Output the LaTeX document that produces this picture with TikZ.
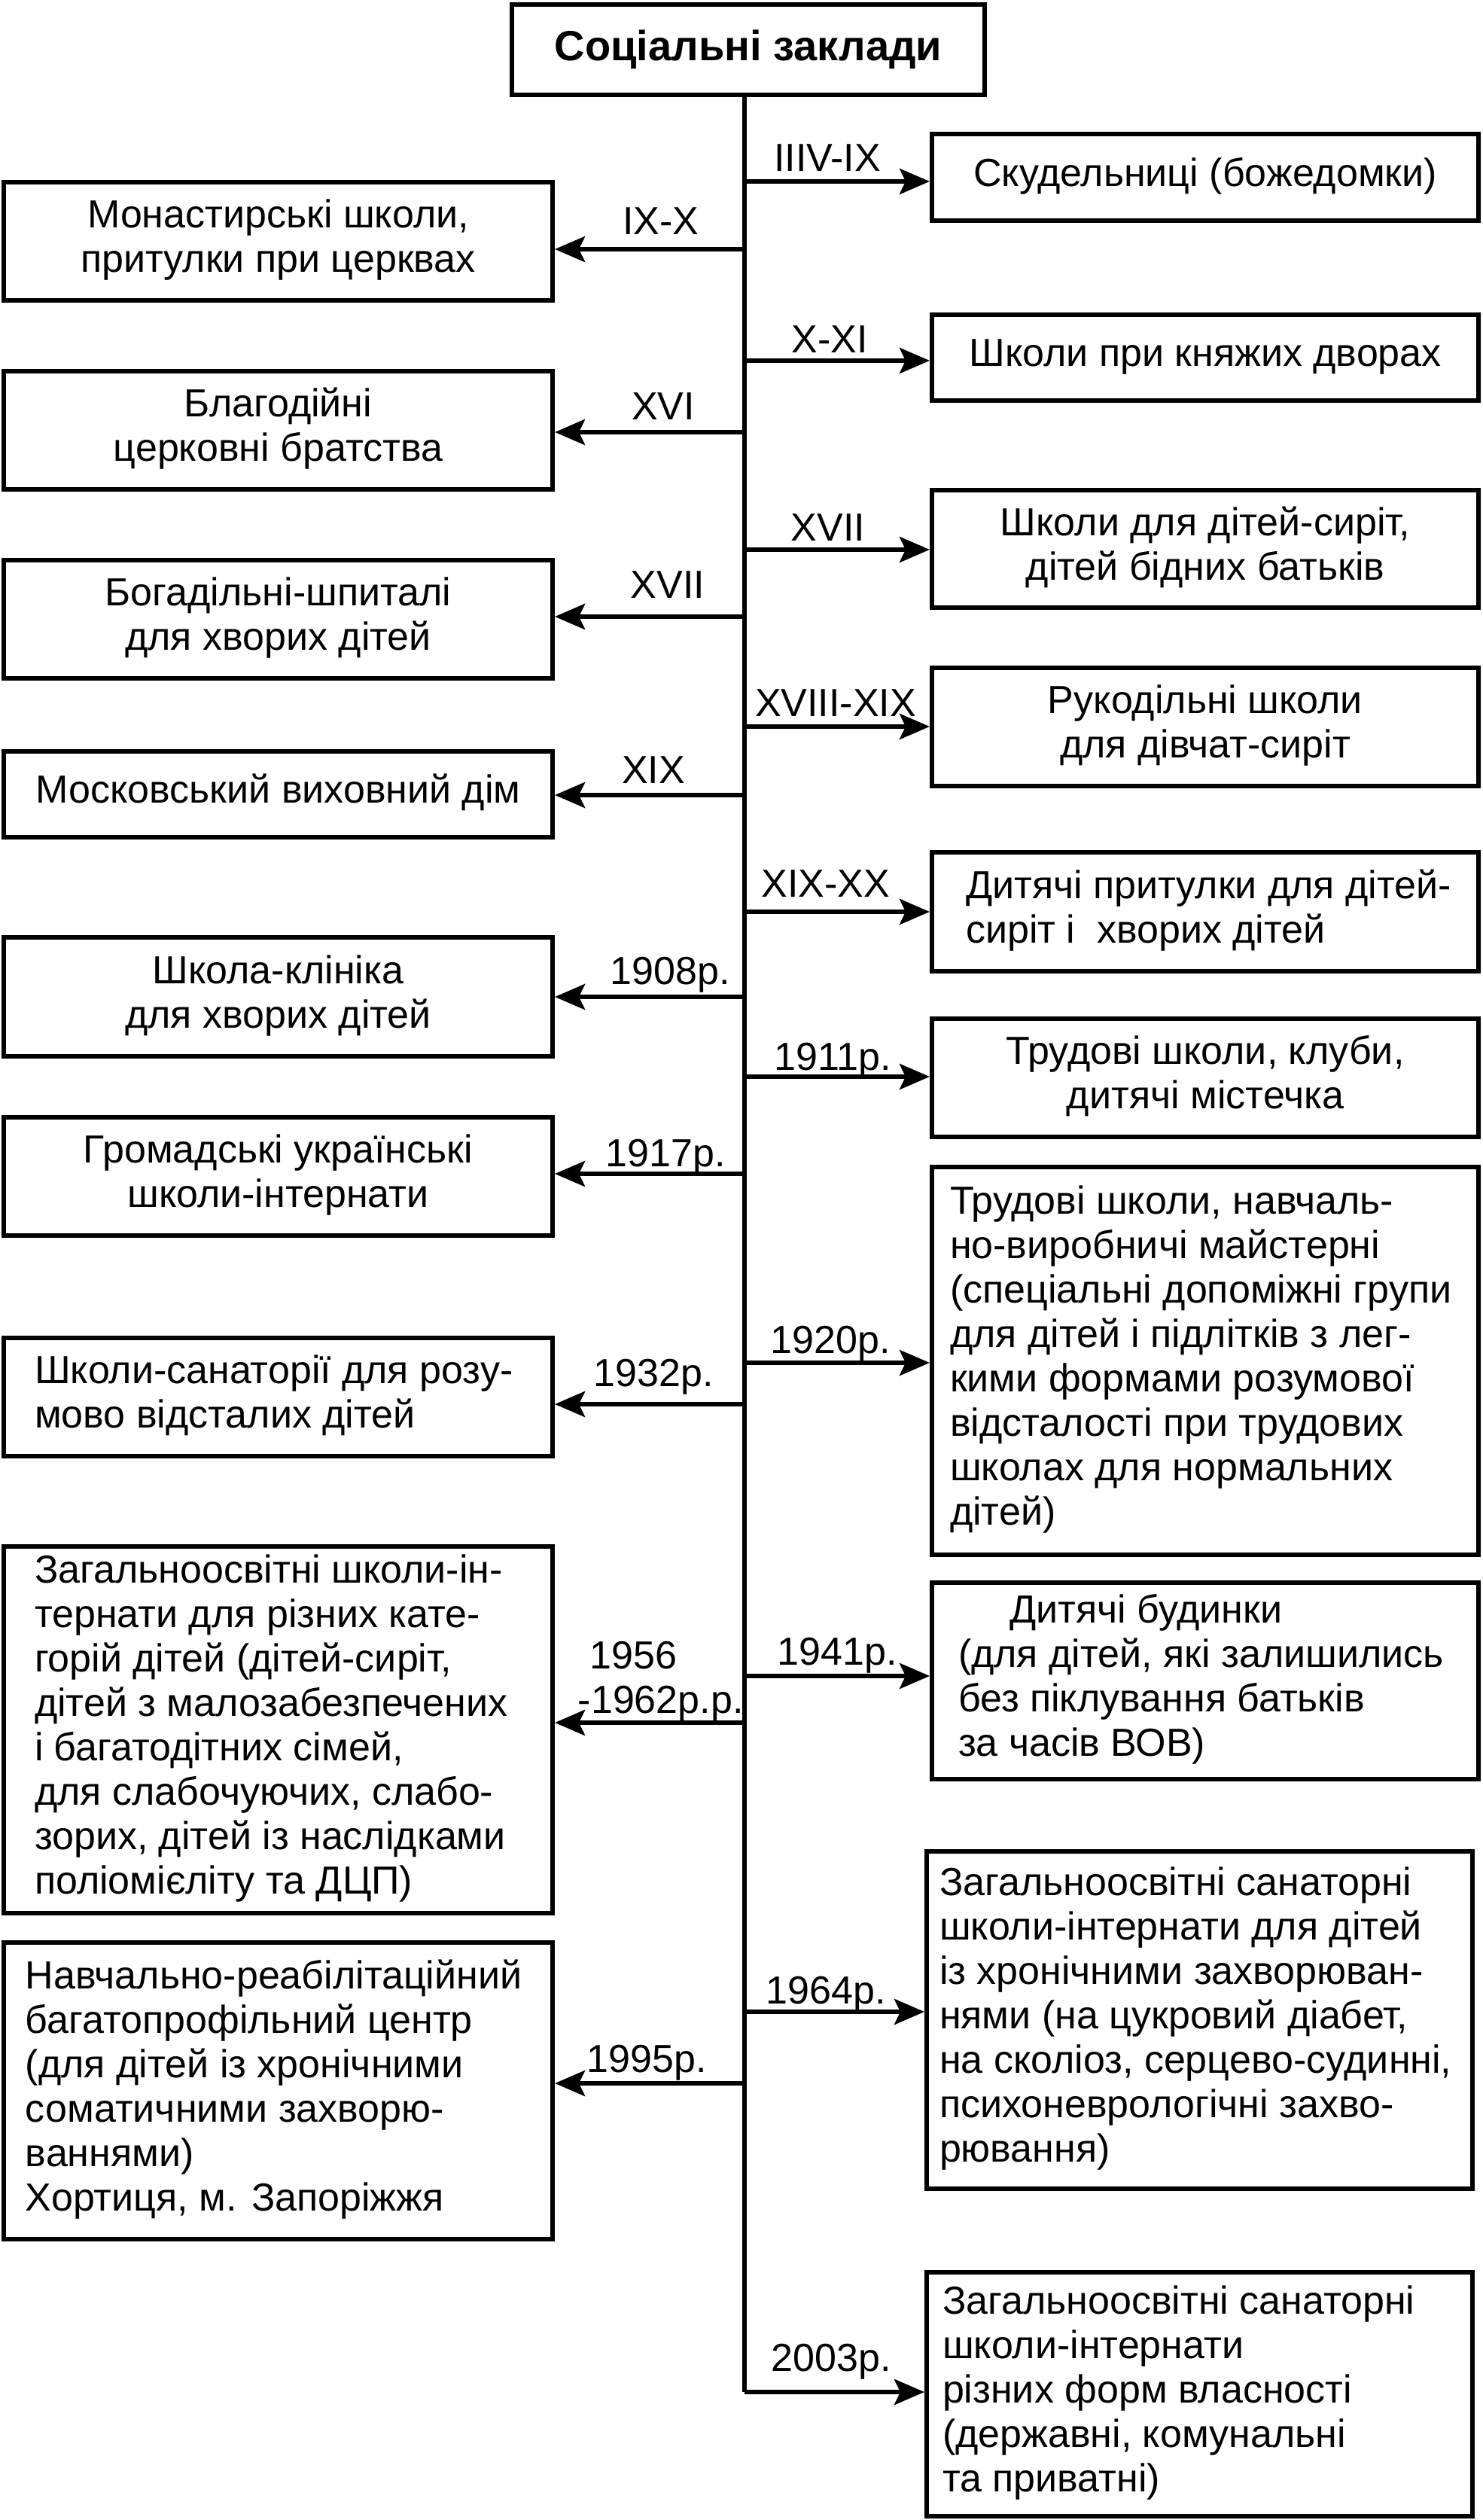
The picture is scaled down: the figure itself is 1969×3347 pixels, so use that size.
\documentclass[tikz,border=0pt]{standalone}
\usepackage{fontspec}
\setmainfont{Liberation Sans}
\usetikzlibrary{arrows.meta}
\newcommand{\tc}[1]{\begin{tabular}{@{}c@{}}#1\end{tabular}}
\newcommand{\lbx}[2]{\makebox[#1][l]{\begin{tabular}{@{}l@{}}#2\end{tabular}}}
\begin{document}
\begin{tikzpicture}[x=0.25pt,y=-0.25pt,
  every node/.style={font=\fontsize{13}{14.75}\selectfont},
  box/.style={draw, line width=1.5pt, rectangle, inner sep=0pt},
  lbox/.style={box, minimum width=182.25pt},
  rbox/.style={box, minimum width=181.5pt},
  rboxb/.style={box, minimum width=181.25pt},
  lab/.style={anchor=base, inner sep=0pt},
  link/.style={line width=1.5pt},
  arr/.style={line width=1.5pt, -{Stealth[length=10pt,width=8.5pt,inset=2pt]}}
]
\useasboundingbox (0,0) rectangle (1969,3347);

% title
\node[box, minimum width=157pt, minimum height=30pt, font=\fontsize{14}{16}\selectfont\bfseries] (title) at (994,66) {Соціальні заклади};

% left boxes
\node[lbox, minimum height=39.25pt] (L1) at (369.5,320.5) {\tc{Монастирські школи,\\притулки при церквах}};
\node[lbox, minimum height=39.25pt] (L2) at (369.5,571.5) {\tc{Благодійні\\церковні братства}};
\node[lbox, minimum height=39.25pt] (L3) at (369.5,822.5) {\tc{Богадільні-шпиталі\\для хворих дітей}};
\node[lbox, minimum height=28.5pt] (L4) at (369.5,1055) {\tc{Московський виховний дім}};
\node[lbox, minimum height=39.5pt] (L5) at (369.5,1324) {\tc{Школа-клініка\\для хворих дітей}};
\node[lbox, minimum height=39.25pt] (L6) at (369.5,1562.5) {\tc{Громадські українські\\школи-інтернати}};
\node[lbox, minimum height=39.25pt] (L7) at (369.5,1855.5) {\lbx{161.75pt}{Школи-санаторії для розу-\\мово відсталих дітей}};
\node[lbox, minimum height=121.75pt] (L8) at (369.5,2297.5) {\lbx{161.75pt}{Загальноосвітні школи-ін-\\тернати для різних кате-\\горій дітей (дітей-сиріт,\\дітей з малозабезпечених\\і багатодітних сімей,\\для слабочуючих, слабо-\\зорих, дітей із наслідками\\поліомієліту та ДЦП)}};
\node[lbox, minimum height=98.5pt] (L9) at (369.5,2777) {\lbx{167.75pt}{Навчально-реабілітаційний\\багатопрофільний центр\\(для дітей із хронічними\\соматичними захворю-\\ваннями)\\Хортиця, м. Запоріжжя}};

% right boxes
\node[rbox, minimum height=28.75pt] (R1) at (1601,235.5) {\tc{Скудельниці (божедомки)}};
\node[rbox, minimum height=28.5pt] (R2) at (1601,475) {\tc{Школи при княжих дворах}};
\node[rbox, minimum height=39pt] (R3) at (1601,729) {\tc{Школи для дітей-сиріт,\\дітей бідних батьків}};
\node[rbox, minimum height=39.25pt] (R4) at (1601,965.5) {\tc{Рукодільні школи\\для дівчат-сиріт}};
\node[rbox, minimum height=39.5pt] (R5) at (1601,1211) {\lbx{159pt}{Дитячі притулки для дітей-\\сиріт і \ хворих дітей}};
\node[rbox, minimum height=39.25pt] (R6) at (1601,1431.5) {\tc{Трудові школи, клуби,\\дитячі містечка}};
\node[rbox, minimum height=128.75pt] (R7) at (1601,1807.5) {\lbx{169.5pt}{Трудові школи, навчаль-\\но-виробничі майстерні\\(спеціальні допоміжні групи\\для дітей і підлітків з лег-\\кими формами розумової\\відсталості при трудових\\школах для нормальних\\дітей)}};
\node[rbox, minimum height=65.25pt] (R8) at (1601,2232.5) {\lbx{164pt}{\hspace*{17pt}Дитячі будинки\\(для дітей, які залишились\\без піклування батьків\\за часів ВОВ)}};
\node[rboxb, minimum height=112pt] (R9) at (1593.5,2683) {\lbx{172.75pt}{Загальноосвітні санаторні\\школи-інтернати для дітей\\із хронічними захворюван-\\нями (на цукровий діабет,\\на сколіоз, серцево-судинні,\\психоневрологічні захво-\\рювання)}};
\node[rboxb, minimum height=81pt] (R10) at (1593.5,3180) {\lbx{170.75pt}{Загальноосвітні санаторні\\школи-інтернати\\різних форм власності\\(державні, комунальні\\та приватні)}};

% trunk
\coordinate (tb) at (989,3177);
\draw[link] (title.south -| tb) -- (tb);

% branch points
\coordinate (l1) at (989,331);
\coordinate (l2) at (989,574);
\coordinate (l3) at (989,819);
\coordinate (l4) at (989,1056);
\coordinate (l5) at (989,1324);
\coordinate (l6) at (989,1559);
\coordinate (l7) at (989,1865);
\coordinate (l8) at (989,2288);
\coordinate (l9) at (989,2767);
\coordinate (r1) at (989,241);
\coordinate (r2) at (989,479);
\coordinate (r3) at (989,730);
\coordinate (r4) at (989,965);
\coordinate (r5) at (989,1211);
\coordinate (r6) at (989,1430);
\coordinate (r7) at (989,1810);
\coordinate (r8) at (989,2226);
\coordinate (r9) at (989,2672);

\foreach \i in {1,...,9} {\draw[arr] (l\i) -- (l\i -| L\i.east);}
\foreach \i in {1,...,9} {\draw[arr] (r\i) -- (r\i -| R\i.west);}
\draw[arr] (tb) -- (tb -| R10.west);

% labels left
\node[lab] (tl1) at (878,312) {IX-X};
\node[lab] (tl2) at (881,558) {XVI};
\node[lab] (tl3) at (887,795) {XVII};
\node[lab] (tl4) at (868,1040) {XIX};
\node[lab] (tl5) at (890,1307) {1908р.};
\node[lab] (tl6) at (884,1549) {1917р.};
\node[lab] (tl7) at (868,1841) {1932р.};
\node[inner sep=0pt, anchor=base west] (tl8) at (767,2216) {\begin{tabular}[t]{@{}l@{}}\hspace*{4pt}1956\\-1962р.р.\end{tabular}};
\node[lab] (tl9) at (859,2752) {1995р.};

% labels right
\node[lab] (tr1) at (1099,228) {IIIV-IX};
\node[lab] (tr2) at (1102,469) {X-XI};
\node[lab] (tr3) at (1100,719) {XVII};
\node[lab] (tr4) at (1110,951) {XVIII-XIX};
\node[lab] (tr5) at (1097,1191) {XIX-XX};
\node[lab] (tr6) at (1106,1421) {1911р.};
\node[lab] (tr7) at (1103,1797) {1920р.};
\node[lab] (tr8) at (1112,2211) {1941р.};
\node[lab] (tr9) at (1097,2661) {1964р.};
\node[lab] (tr10) at (1104,3149) {2003р.};
\end{tikzpicture}
\end{document}
